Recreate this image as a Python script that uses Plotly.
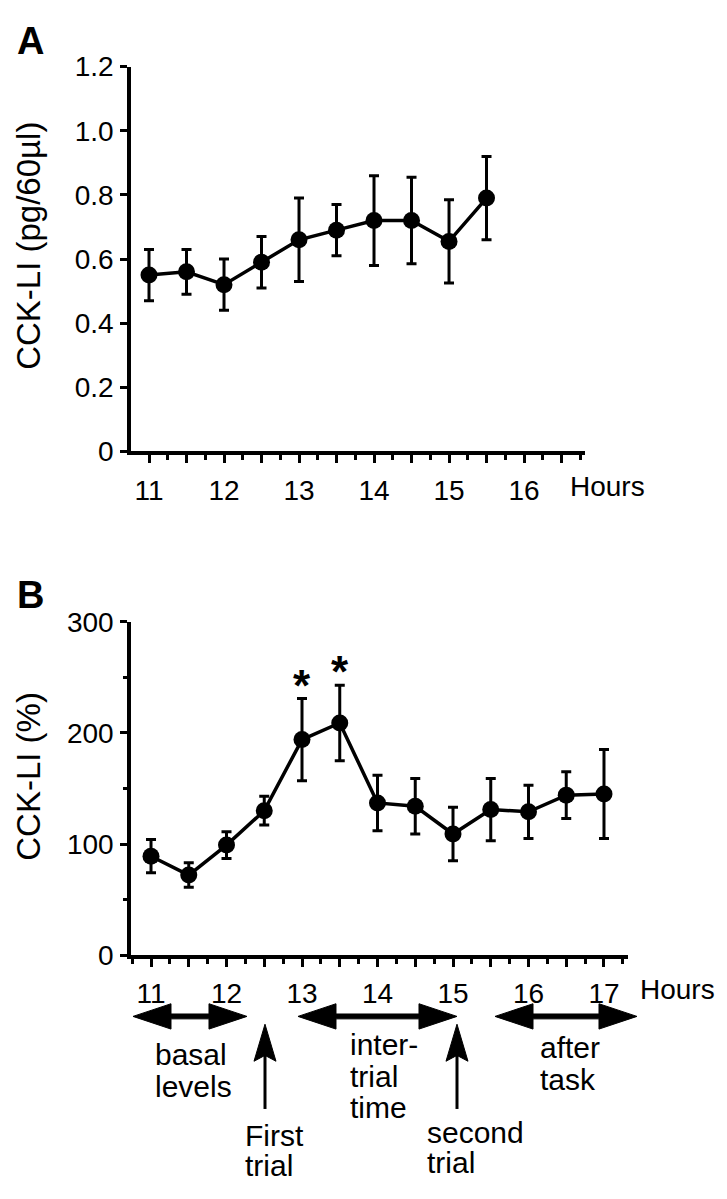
import plotly.graph_objects as go

# ---------------- data ----------------
hours_a = [11, 11.5, 12, 12.5, 13, 13.5, 14, 14.5, 15, 15.5]
cck_a = [0.55, 0.56, 0.52, 0.59, 0.66, 0.69, 0.72, 0.72, 0.655, 0.79]
err_a = [0.08, 0.07, 0.08, 0.08, 0.13, 0.08, 0.14, 0.135, 0.13, 0.13]

hours_b = [11, 11.5, 12, 12.5, 13, 13.5, 14, 14.5, 15, 15.5, 16, 16.5, 17]
cck_b = [89, 72, 99, 130, 194, 209, 137, 134, 109, 131, 129, 144, 145]
err_b = [15, 11, 12, 13, 37, 34, 25, 25, 24, 28, 24, 21, 40]

star_hours = [13, 13.5]

a_xticks = [11, 11.5, 12, 12.5, 13, 13.5, 14, 14.5, 15, 15.5, 16, 16.5]
a_xlabels = ["11", "", "12", "", "13", "", "14", "", "15", "", "16", ""]
b_xticks = [11, 11.5, 12, 12.5, 13, 13.5, 14, 14.5, 15, 15.5, 16, 16.5, 17]
b_xlabels = ["11", "", "12", "", "13", "", "14", "", "15", "", "16", "", "17"]
a_yticks = [0, 0.2, 0.4, 0.6, 0.8, 1.0, 1.2]
a_ylabels = ["0", "0.2", "0.4", "0.6", "0.8", "1.0", "1.2"]
b_yticks = [0, 100, 200, 300]
b_ylabels = ["0", "100", "200", "300"]

# ---------------- helpers ----------------
W, H = 727, 1199
FONT = "Liberation Sans, Arial, Helvetica, sans-serif"


def px(x):
    return x / W


def py(y):
    return 1 - y / H


fig = go.Figure()

common_trace = dict(
    mode="lines+markers",
    line=dict(color="black", width=3.5),
    marker=dict(color="black", size=17),
    cliponaxis=False,
    hoverinfo="skip",
)

fig.add_trace(go.Scatter(
    x=hours_a, y=cck_a,
    error_y=dict(type="data", array=err_a, color="black", thickness=3, width=5),
    xaxis="x", yaxis="y", **common_trace))

fig.add_trace(go.Scatter(
    x=hours_b, y=cck_b,
    error_y=dict(type="data", array=err_b, color="black", thickness=3, width=5),
    xaxis="x2", yaxis="y2", **common_trace))

axis_common = dict(
    showline=True, linecolor="black", linewidth=3.5,
    ticks="outside", tickcolor="black", tickwidth=3,
    showgrid=False, zeroline=False, fixedrange=True,
    tickfont=dict(size=28, color="black", family=FONT),
)

minor_x = dict(tickmode="linear", tick0=10.75, dtick=0.25, ticklen=5,
               tickwidth=2.5, ticks="outside", tickcolor="black")

fig.update_layout(
    width=W, height=H,
    margin=dict(l=0, r=0, t=0, b=0),
    paper_bgcolor="white", plot_bgcolor="white",
    showlegend=False,
    font=dict(family=FONT, color="black"),
    xaxis=dict(
        domain=[px(131), px(585)], range=[10.76, 16.813], anchor="y",
        tickmode="array", tickvals=a_xticks, ticktext=a_xlabels, ticklen=8,
        ticklabelstandoff=3, minor=minor_x, **axis_common),
    yaxis=dict(
        domain=[py(448), py(53)], range=[0, 1.2], anchor="x",
        tickmode="array", tickvals=a_yticks, ticktext=a_ylabels, ticklen=7,
        ticklabelstandoff=1, **axis_common),
    xaxis2=dict(
        domain=[px(131), px(628)], range=[10.735, 17.318], anchor="y2",
        tickmode="array", tickvals=b_xticks, ticktext=b_xlabels, ticklen=8,
        ticklabelstandoff=3, minor=minor_x, **axis_common),
    yaxis2=dict(
        domain=[py(965), py(623)], range=[0, 300], anchor="x2",
        tickmode="array", tickvals=b_yticks, ticktext=b_ylabels, ticklen=7,
        ticklabelstandoff=1,
        minor=dict(tickmode="array", tickvals=[50, 150, 250], ticklen=4,
                   tickwidth=2.5, ticks="outside", tickcolor="black"),
        **axis_common),
)

annotations = []


def text(x, y, s, size=30, xanchor="left", yanchor="middle", bold=False, angle=0):
    annotations.append(dict(
        x=px(x), y=py(y), xref="paper", yref="paper",
        text=("<b>%s</b>" % s) if bold else s,
        showarrow=False, xanchor=xanchor, yanchor=yanchor, textangle=angle,
        font=dict(size=size, color="black", family=FONT)))


# panel letters
text(30, 27, "A", size=38, xanchor="center", bold=True)
text(30, 595, "B", size=38, xanchor="center", bold=True)

# y-axis titles
text(29, 237, "CCK-LI (pg/60µl)", size=33, xanchor="center", angle=-90)
text(29, 782, "CCK-LI (%)", size=33, xanchor="center", angle=-90)

# Hours labels
text(568, 484, "Hours", size=28)
text(638, 1000, "Hours", size=28)

# asterisks above significant points
for h in star_hours:
    i = hours_b.index(h)
    annotations.append(dict(
        x=h, y=cck_b[i] + err_b[i] + 12, xref="x2", yref="y2", text="<b>*</b>",
        showarrow=False, xanchor="center", yanchor="middle",
        font=dict(size=44, color="black", family=FONT)))

# bottom labels (one annotation per line)
text(153, 1067, "basal")
text(153, 1100, "levels")
text(243, 1150, "First")
text(243, 1181, "trial")
text(348, 1057, "inter-")
text(348, 1090, "trial")
text(348, 1122, "time")
text(425, 1147, "second")
text(425, 1178, "trial")
text(538, 1060, "after")
text(538, 1093, "task")

fig.update_layout(annotations=annotations)

# arrows (annotation graphics, paper coordinates)
shapes = []


def poly(points):
    d = "M " + " L ".join("%.5f,%.5f" % (px(x), py(y)) for x, y in points) + " Z"
    shapes.append(dict(type="path", path=d, xref="paper", yref="paper",
                       fillcolor="black", line=dict(color="black", width=1)))


def double_arrow(x1, x2, y, hl=38, hh=13, sh=2.5):
    poly([(x1, y), (x1 + hl, y - hh), (x1 + hl, y - sh), (x2 - hl, y - sh),
          (x2 - hl, y - hh), (x2, y), (x2 - hl, y + hh), (x2 - hl, y + sh),
          (x1 + hl, y + sh), (x1 + hl, y + hh)])


def up_arrow(x, ytip, ybot, hl=38, hw=11):
    poly([(x, ytip), (x + hw, ytip + hl), (x, ytip + hl - 6), (x - hw, ytip + hl)])
    shapes.append(dict(type="line", xref="paper", yref="paper",
                       x0=px(x), x1=px(x), y0=py(ytip + 25), y1=py(ybot),
                       line=dict(color="black", width=3)))


double_arrow(133, 247, 1028)
double_arrow(298, 457, 1028)
double_arrow(495, 637, 1028)
up_arrow(265, 1036, 1123)
up_arrow(457, 1036, 1123)

fig.update_layout(shapes=shapes)

fig.write_html("out.html", config={"displayModeBar": False},
               post_script="document.body.style.margin='0';")
